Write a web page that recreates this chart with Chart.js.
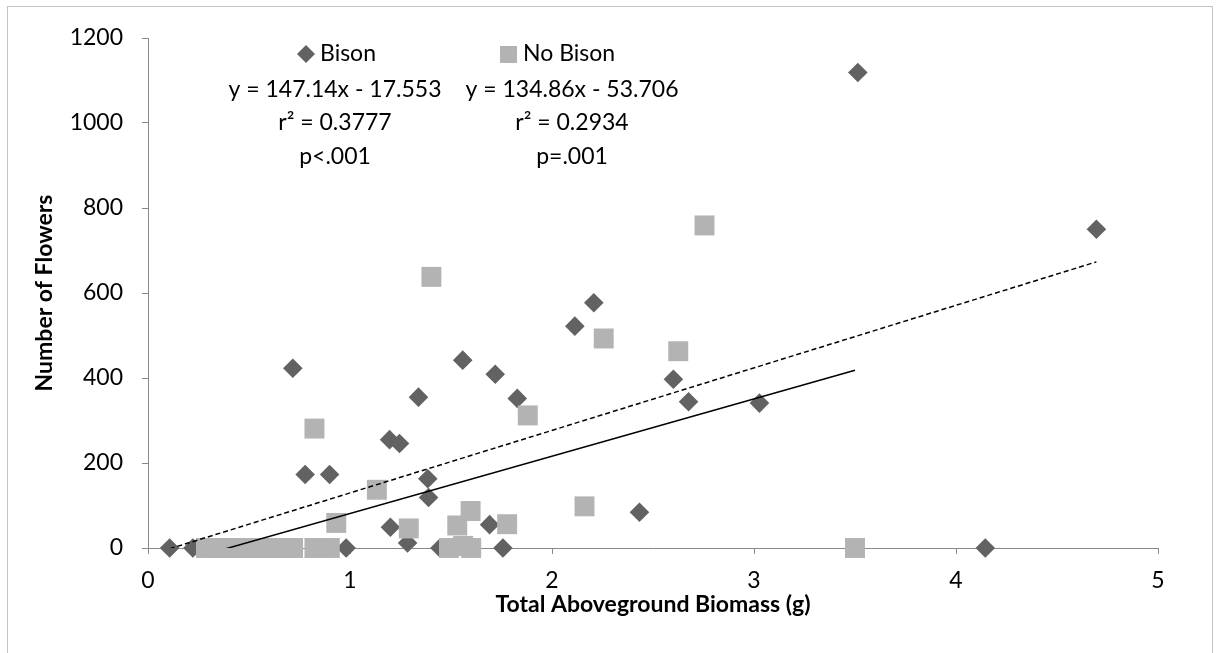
<!DOCTYPE html>
<html>
<head>
<meta charset="utf-8">
<title>Flowers vs. Biomass</title>
<script src="https://cdn.jsdelivr.net/npm/chart.js@4.4.1/dist/chart.umd.min.js"></script>
<style>
  html, body { margin: 0; padding: 0; background: #ffffff; }
  #wrap { width: 1220px; height: 653px; position: relative; }
</style>
</head>
<body>
<div id="wrap"><canvas id="chart" width="1220" height="653"></canvas></div>
<script>
// Plots grazed by bison: total aboveground biomass (g) and number of flowers
const bisonBiomass = [0.107, 0.222, 0.717, 0.778, 0.899, 0.981, 1.196, 1.245, 1.200, 1.285,
                      1.339, 1.385, 1.389, 1.445, 1.558, 1.691, 1.719, 1.757, 1.828, 2.113,
                      2.207, 2.433, 2.601, 2.676, 3.027, 3.514, 4.145, 4.695];
const bisonFlowers = [0, 0, 423, 173, 173, 0, 255, 246, 49, 12,
                      355, 163, 119, 0, 442, 55, 409, 0, 352, 522,
                      577, 84, 397, 344, 341, 1119, 0, 750];

// Plots without bison
const noBisonBiomass = [0.287, 0.330, 0.370, 0.410, 0.450, 0.490, 0.530, 0.570, 0.610, 0.650,
                        0.690, 0.718, 0.824, 0.900, 0.824, 0.932, 1.133, 1.291, 1.403, 1.490,
                        1.531, 1.560, 1.597, 1.600, 1.778, 1.880, 2.161, 2.256, 2.625, 2.755,
                        3.500];
const noBisonFlowers = [0, 0, 0, 0, 0, 0, 0, 0, 0, 0,
                        0, 0, 0, 0, 281, 59, 137, 46, 638, 0,
                        53, 5, 87, 0, 56, 312, 98, 493, 463, 759,
                        0];

const seriesNames = ['Bison', 'No Bison'];

// Linear fits reported for each series
const bisonFit = { slope: 147.14, intercept: -17.553 };
const noBisonFit = { slope: 134.86, intercept: -53.706 };
const bisonStats = ['y = 147.14x - 17.553', 'r\u00B2 = 0.3777', 'p<.001'];
const noBisonStats = ['y = 134.86x - 53.706', 'r\u00B2 = 0.2934', 'p=.001'];

// Axis ticks and titles
const xTicks = [0, 1, 2, 3, 4, 5];
const yTicks = [0, 200, 400, 600, 800, 1000, 1200];
const xTitle = 'Total Aboveground Biomass (g)';
const yTitle = 'Number of Flowers';

const BISON_COLOR = '#626262';
const NOBISON_COLOR = '#b3b3b3';
const AXIS_COLOR = '#898989';
const FONT = 'Lato, "Open Sans", sans-serif';

function toPoints(xs, ys) {
  return xs.map((x, i) => ({ x: x, y: ys[i] }));
}

function fitLine(xs, fit) {
  const lo = Math.min(...xs);
  const hi = Math.max(...xs);
  return [lo, hi].map(x => ({ x: x, y: fit.slope * x + fit.intercept }));
}

// White page, outer frame, and the legend / statistics text
const decorations = {
  id: 'decorations',
  beforeDraw(chart) {
    const ctx = chart.ctx;
    ctx.save();
    ctx.fillStyle = '#ffffff';
    ctx.fillRect(0, 0, chart.width, chart.height);
    ctx.strokeStyle = '#c4c4c4';
    ctx.lineWidth = 1;
    ctx.strokeRect(7.5, 6.5, 1205, 700);
    ctx.restore();
  },
  afterDraw(chart) {
    const ctx = chart.ctx;
    ctx.save();
    ctx.font = '23px ' + FONT;
    ctx.fillStyle = '#000000';
    ctx.textBaseline = 'middle';

    // legend entries
    ctx.fillStyle = BISON_COLOR;
    ctx.beginPath();
    ctx.moveTo(297, 54); ctx.lineTo(306, 45); ctx.lineTo(315, 54); ctx.lineTo(306, 63);
    ctx.closePath();
    ctx.fill();
    ctx.fillStyle = NOBISON_COLOR;
    ctx.fillRect(500, 46, 17, 17);
    ctx.fillStyle = '#000000';
    ctx.textAlign = 'left';
    ctx.fillText(seriesNames[0], 320, 54);
    ctx.fillText(seriesNames[1], 523, 54);

    // regression statistics
    ctx.textAlign = 'center';
    const rows = [90, 123, 157];
    bisonStats.forEach((t, i) => ctx.fillText(t, 335, rows[i]));
    noBisonStats.forEach((t, i) => ctx.fillText(t, 572, rows[i]));
    ctx.restore();
  }
};

function build() {
  Chart.defaults.font.family = FONT;
  Chart.defaults.font.size = 23;
  Chart.defaults.color = '#000000';

  new Chart(document.getElementById('chart'), {
    type: 'scatter',
    data: {
      datasets: [
        {
          type: 'line',
          label: seriesNames[0] + ' fit',
          data: fitLine(bisonBiomass, bisonFit),
          borderColor: '#000000',
          borderWidth: 1.5,
          borderDash: [5, 3],
          pointRadius: 0,
          fill: false,
          order: 0
        },
        {
          type: 'line',
          label: seriesNames[1] + ' fit',
          data: fitLine(noBisonBiomass, noBisonFit),
          borderColor: '#000000',
          borderWidth: 1.5,
          pointRadius: 0,
          fill: false,
          order: 0
        },
        {
          label: seriesNames[1],
          data: toPoints(noBisonBiomass, noBisonFlowers),
          pointStyle: 'rect',
          pointRadius: 14.1,
          pointHoverRadius: 14.1,
          pointBackgroundColor: NOBISON_COLOR,
          pointBorderWidth: 0,
          clip: false,
          order: 1
        },
        {
          label: seriesNames[0],
          data: toPoints(bisonBiomass, bisonFlowers),
          pointStyle: 'rectRot',
          pointRadius: 9.8,
          pointHoverRadius: 9.8,
          pointBackgroundColor: BISON_COLOR,
          pointBorderWidth: 0,
          clip: false,
          order: 2
        }
      ]
    },
    options: {
      responsive: false,
      animation: false,
      events: [],
      layout: { padding: { left: 0, right: 62, top: 38, bottom: 0 } },
      plugins: {
        legend: { display: false },
        tooltip: { enabled: false }
      },
      scales: {
        x: {
          type: 'linear',
          min: xTicks[0],
          max: xTicks[xTicks.length - 1],
          afterBuildTicks(scale) { scale.ticks = xTicks.map(v => ({ value: v })); },
          afterFit(scale) { scale.height = 105; },
          border: { display: true, color: AXIS_COLOR, width: 1 },
          grid: { display: true, drawOnChartArea: false, drawTicks: true, tickLength: 6, color: AXIS_COLOR },
          ticks: { padding: 13, color: '#000000', font: { size: 23 }, callback: v => String(v) },
          title: {
            display: true,
            text: xTitle,
            color: '#000000',
            font: { size: 23, weight: 'bold' },
            padding: { top: 0, bottom: 35 }
          }
        },
        y: {
          type: 'linear',
          min: yTicks[0],
          max: yTicks[yTicks.length - 1],
          afterBuildTicks(scale) { scale.ticks = yTicks.map(v => ({ value: v })); },
          afterFit(scale) { scale.width = 148; },
          border: { display: true, color: AXIS_COLOR, width: 1 },
          grid: { display: true, drawOnChartArea: false, drawTicks: true, tickLength: 6, color: AXIS_COLOR },
          ticks: { padding: 19, color: '#000000', font: { size: 23 }, callback: v => String(v) },
          title: {
            display: true,
            text: yTitle,
            color: '#000000',
            font: { size: 23, weight: 'bold' },
            padding: { top: 31, bottom: 0 }
          }
        }
      }
    },
    plugins: [decorations]
  });
}

if (document.fonts && document.fonts.load) {
  Promise.all([
    document.fonts.load('23px Lato'),
    document.fonts.load('bold 23px Lato')
  ]).then(build, build);
} else {
  build();
}
</script>
</body>
</html>
